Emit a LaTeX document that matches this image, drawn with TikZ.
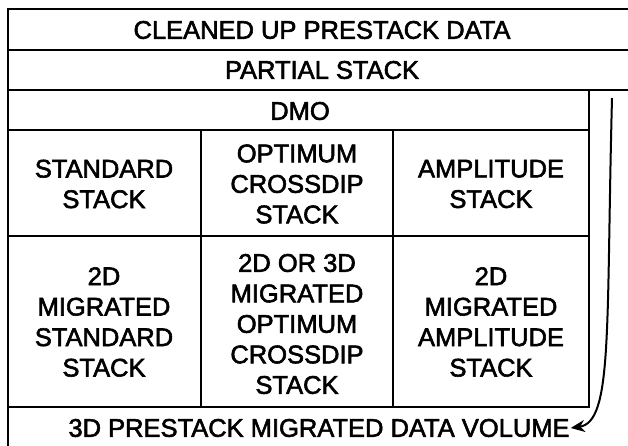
\documentclass[tikz,border=0pt]{standalone}
\usepackage{fontspec}
\setmainfont{Liberation Sans}
\newfontfamily\lblfont{Liberation Sans}[FakeBold=2.2]
\usetikzlibrary{arrows.meta}
\begin{document}
\begin{tikzpicture}[x=1pt,y=-1pt,
  outer/.style={line width=2.8pt},
  inner/.style={line width=1.8pt},
  lbl/.style={font=\lblfont\fontsize{25.5}{30.5}\selectfont, align=center, inner sep=1pt},
  flow/.style={line width=2pt, -{Stealth[length=14pt,width=12pt,inset=4.5pt]}}]
\useasboundingbox (0,0) rectangle (628,446);
% outer frame
\draw[outer] (628,9) -- (8,9) -- (8,446);
\draw[inner] (8,50) -- (628,50);
\draw[inner] (8,90) -- (628,90);
% inner box
\draw[inner] (8,130) -- (589,130);
\draw[inner] (8,236) -- (589,236);
\draw[inner] (8,407) -- (589,407) -- (589,90);
\draw[inner] (201,130) -- (201,407);
\draw[inner] (393,130) -- (393,407);
% texts
\node[lbl] (clean) at (322,30) {CLEANED UP PRESTACK DATA};
\node[lbl] (partial) at (322,70) {PARTIAL STACK};
\node[lbl] (dmo) at (300,111) {DMO};
\node[lbl] (std) at (104,184) {STANDARD\\STACK};
\node[lbl] (opt) at (297,184) {OPTIMUM\\CROSSDIP\\STACK};
\node[lbl] (amp) at (491,184) {AMPLITUDE\\STACK};
\node[lbl] (mstd) at (104,322) {2D\\MIGRATED\\STANDARD\\STACK};
\node[lbl] (mopt) at (297,324) {2D OR 3D\\MIGRATED\\OPTIMUM\\CROSSDIP\\STACK};
\node[lbl] (mamp) at (491,322) {2D\\MIGRATED\\AMPLITUDE\\STACK};
\node[lbl] (vol) at (319,428) {3D PRESTACK MIGRATED DATA VOLUME};
% arrow
\coordinate (astart) at (612,98);
\draw[flow] (astart) .. controls (606,330) and (613,422) .. (vol.east);
\end{tikzpicture}
\end{document}
